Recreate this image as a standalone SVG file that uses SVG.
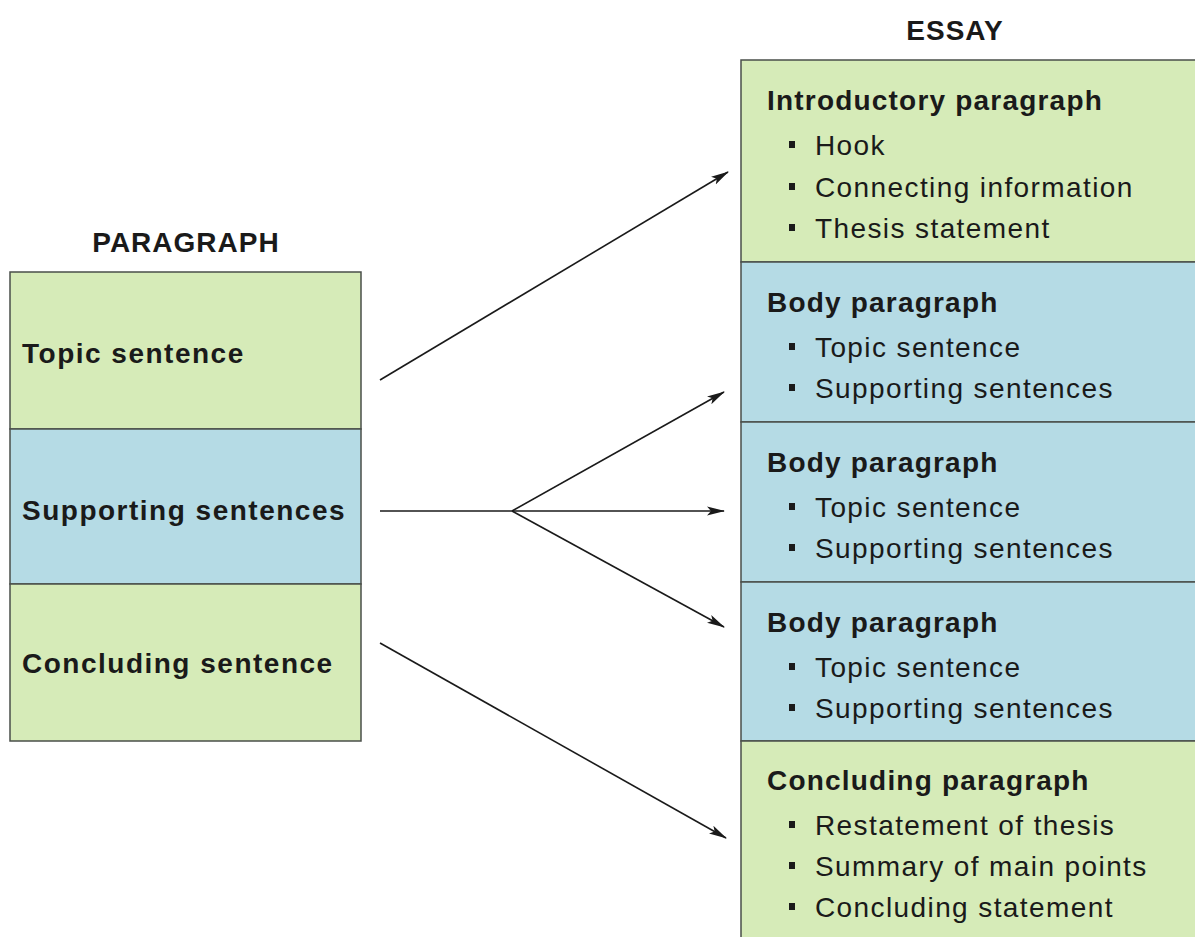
<svg xmlns="http://www.w3.org/2000/svg" width="1195" height="937" viewBox="0 0 1195 937">
<style>
.green{fill:#d6ebb8;stroke:#4a4f4a;stroke-width:1.5}
.blue{fill:#b5dbe5;stroke:#4a4f4a;stroke-width:1.5}
.title{font-family:"Liberation Sans",Arial,sans-serif;font-weight:bold;font-size:28px;fill:#1a1a1a;letter-spacing:1px}
.lbl{font-family:"Liberation Sans",Arial,sans-serif;font-weight:bold;font-size:28px;fill:#1a1a1a;letter-spacing:1.2px}
.lft{font-family:"Liberation Sans",Arial,sans-serif;font-weight:bold;font-size:28px;fill:#1a1a1a;letter-spacing:1.5px}
.item{font-family:"Liberation Sans",Arial,sans-serif;font-size:28px;fill:#1a1a1a;letter-spacing:1.4px}
.bul{fill:#1a1a1a}
.conn{stroke:#1a1a1a;stroke-width:1.6;fill:none}
</style>
<defs>
<marker id="ah" markerWidth="18" markerHeight="10" refX="17" refY="5" orient="auto" markerUnits="userSpaceOnUse">
<path d="M0,0.5 L18,5 L0,9.5 L4,5 Z" fill="#1a1a1a"/>
</marker>
</defs>
<rect width="1195" height="937" fill="#ffffff"/>

<text class="title" x="186" y="252" text-anchor="middle">PARAGRAPH</text>
<text class="title" x="955" y="40" text-anchor="middle">ESSAY</text>

<g id="p-topic">
<rect class="green" x="10" y="272" width="351" height="157"/>
<text class="lft" x="22" y="363">Topic sentence</text>
</g>
<g id="p-supporting">
<rect class="blue" x="10" y="429" width="351" height="155"/>
<text class="lft" x="22" y="520">Supporting sentences</text>
</g>
<g id="p-concluding">
<rect class="green" x="10" y="584" width="351" height="157"/>
<text class="lft" x="22" y="673">Concluding sentence</text>
</g>

<g id="e-intro">
<rect class="green" x="741" y="60" width="470" height="202"/>
<text class="lbl" x="767" y="110">Introductory paragraph</text>
<rect class="bul" x="789" y="141" width="6" height="7"/>
<text class="item" x="815" y="155">Hook</text>
<rect class="bul" x="789" y="183" width="6" height="7"/>
<text class="item" x="815" y="197">Connecting information</text>
<rect class="bul" x="789" y="224" width="6" height="7"/>
<text class="item" x="815" y="238">Thesis statement</text>
</g>

<g id="e-body1">
<rect class="blue" x="741" y="262" width="470" height="160"/>
<text class="lbl" x="767" y="312">Body paragraph</text>
<rect class="bul" x="789" y="343" width="6" height="7"/>
<text class="item" x="815" y="357">Topic sentence</text>
<rect class="bul" x="789" y="384" width="6" height="7"/>
<text class="item" x="815" y="398">Supporting sentences</text>
</g>

<g id="e-body2">
<rect class="blue" x="741" y="422" width="470" height="160"/>
<text class="lbl" x="767" y="472">Body paragraph</text>
<rect class="bul" x="789" y="503" width="6" height="7"/>
<text class="item" x="815" y="517">Topic sentence</text>
<rect class="bul" x="789" y="544" width="6" height="7"/>
<text class="item" x="815" y="558">Supporting sentences</text>
</g>

<g id="e-body3">
<rect class="blue" x="741" y="582" width="470" height="159"/>
<text class="lbl" x="767" y="632">Body paragraph</text>
<rect class="bul" x="789" y="663" width="6" height="7"/>
<text class="item" x="815" y="677">Topic sentence</text>
<rect class="bul" x="789" y="704" width="6" height="7"/>
<text class="item" x="815" y="718">Supporting sentences</text>
</g>

<g id="e-concl">
<rect class="green" x="741" y="741" width="470" height="210"/>
<text class="lbl" x="767" y="790">Concluding paragraph</text>
<rect class="bul" x="789" y="821" width="6" height="7"/>
<text class="item" x="815" y="835">Restatement of thesis</text>
<rect class="bul" x="789" y="862" width="6" height="7"/>
<text class="item" x="815" y="876">Summary of main points</text>
<rect class="bul" x="789" y="903" width="6" height="7"/>
<text class="item" x="815" y="917">Concluding statement</text>
</g>

<g id="connectors">
<line class="conn" x1="380" y1="380" x2="728" y2="172" marker-end="url(#ah)"/>
<line class="conn" x1="380" y1="511" x2="512" y2="511"/>
<line class="conn" x1="512" y1="511" x2="724" y2="392" marker-end="url(#ah)"/>
<line class="conn" x1="512" y1="511" x2="724" y2="511" marker-end="url(#ah)"/>
<line class="conn" x1="512" y1="511" x2="724" y2="627" marker-end="url(#ah)"/>
<line class="conn" x1="380" y1="643" x2="726" y2="838" marker-end="url(#ah)"/>
</g>
</svg>
